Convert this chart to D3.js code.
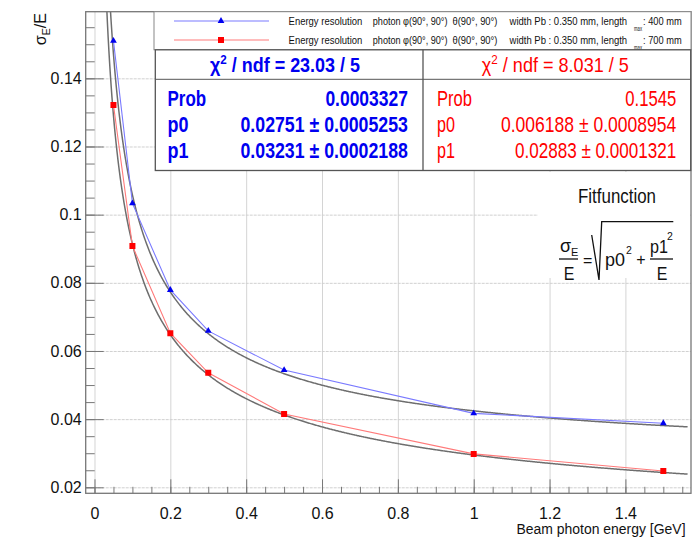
<!DOCTYPE html>
<html>
<head>
  <title>Energy resolution</title>
  <script src="https://d3js.org/d3.v7.min.js"></script>
  <style>
    body { margin: 0; background: #fff; }
    text { font-family: "Liberation Sans", Arial, sans-serif; }
  </style>
</head>
<body>
<div id="chart"></div>
<script>
// beam energies (GeV) and measured sigma_E/E for the two module lengths
const energies = [0.05, 0.1, 0.2, 0.3, 0.5, 1.0, 1.5];
const res400 = [0.1510, 0.1033, 0.0779, 0.0659, 0.0544, 0.0417, 0.0388];
const res700 = [0.1322, 0.0908, 0.0652, 0.0536, 0.0415, 0.0298, 0.0248];

// fit parameters: sigma/E = sqrt(p0^2 + p1^2/E)
const fitP0 = [0.02751, 0.006188];
const fitP1 = [0.03231, 0.02883];

const xTicks = [0, 0.2, 0.4, 0.6, 0.8, 1, 1.2, 1.4];
const yTicks = [0.02, 0.04, 0.06, 0.08, 0.1, 0.12, 0.14];

const legendLabels = ["400 mm", "700 mm"];
const chi2Text = ["23.03 / 5", "8.031 / 5"];
const probText = ["0.0003327", "0.1545"];
const p0Text = ["0.02751 \u00b1 0.0005253", "0.006188 \u00b1 0.0008954"];
const p1Text = ["0.03231 \u00b1 0.0002188", "0.02883 \u00b1 0.0001321"];

const width = 700, height = 552;
const fr = { left: 85.7, right: 691, top: 11.7, bottom: 493.3 };

const svg = d3.select("#chart").append("svg")
  .attr("width", width).attr("height", height);

const x = d3.scaleLinear().domain([-0.0232, 1.573]).range([fr.left, fr.right]);
const y = d3.scaleLinear().domain([0.01824, 0.15955]).range([fr.bottom, fr.top]);

svg.append("defs").append("clipPath").attr("id", "clip")
  .append("rect").attr("x", fr.left).attr("y", fr.top)
  .attr("width", fr.right - fr.left).attr("height", fr.bottom - fr.top);

// grid
svg.append("g").attr("transform", `translate(0,${fr.bottom})`)
  .call(d3.axisBottom(x).tickValues(xTicks).tickSize(-(fr.bottom - fr.top)).tickFormat(""))
  .call(g => g.select(".domain").remove())
  .call(g => g.selectAll("line").attr("stroke", "#d4d4d4"));
svg.append("g").attr("transform", `translate(${fr.left},0)`)
  .call(d3.axisLeft(y).tickValues(yTicks).tickSize(-(fr.right - fr.left)).tickFormat(""))
  .call(g => g.select(".domain").remove())
  .call(g => g.selectAll("line").attr("stroke", "#d0d0d0").attr("stroke-dasharray", "3,1"));

// fit curves
const colors = ["#0000f0", "#ff0000"];
const lineColors = ["#7a7aff", "#ff7a7a"];
const eGrid = d3.range(0.02, 1.566, 0.002);
const line = d3.line().x(d => x(d[0])).y(d => y(d[1]));
const plot = svg.append("g").attr("clip-path", "url(#clip)");

[0, 1].forEach(i => {
  const pts = eGrid.map(e => [e, Math.sqrt(fitP0[i] ** 2 + fitP1[i] ** 2 / e)]);
  plot.append("path").attr("d", line(pts))
    .attr("fill", "none").attr("stroke", "#6e6e6e").attr("stroke-width", 1.5);
});

const series = [res400, res700];
series.forEach((vals, i) => {
  const pts = energies.map((e, j) => [e, vals[j]]);
  plot.append("path").attr("d", line(pts))
    .attr("fill", "none").attr("stroke", lineColors[i]).attr("stroke-width", 1.1);
});

const symbols = [d3.symbol().type(d3.symbolTriangle).size(20), d3.symbol().type(d3.symbolSquare).size(36)];
series.forEach((vals, i) => {
  plot.selectAll(null).data(energies).enter().append("path")
    .attr("d", symbols[i])
    .attr("transform", (e, j) => `translate(${x(e)},${y(vals[j])})`)
    .attr("fill", colors[i]);
});

// axes ticks (inside) and labels
const axisColor = "#777";
svg.append("g").attr("transform", `translate(0,${fr.bottom})`)
  .call(d3.axisBottom(x).tickValues(d3.range(0, 1.56, 0.05)).tickSize(-6.5).tickFormat(""))
  .call(g => g.select(".domain").remove())
  .call(g => g.selectAll("line").attr("stroke", axisColor));
svg.append("g").attr("transform", `translate(0,${fr.bottom})`)
  .call(d3.axisBottom(x).tickValues(xTicks).tickSize(-14).tickPadding(14).tickFormat(d => String(d)))
  .call(g => g.select(".domain").remove())
  .call(g => g.selectAll("line").attr("stroke", axisColor))
  .call(g => g.selectAll("text").attr("font-size", 16).attr("fill", "#111")
    .attr("font-family", "Liberation Sans, Arial, sans-serif"));

svg.append("g").attr("transform", `translate(${fr.left},0)`)
  .call(d3.axisLeft(y).tickValues(d3.range(0.02, 0.158, 0.005)).tickSize(-9).tickFormat(""))
  .call(g => g.select(".domain").remove())
  .call(g => g.selectAll("line").attr("stroke", axisColor));
svg.append("g").attr("transform", `translate(${fr.left},0)`)
  .call(d3.axisLeft(y).tickValues(yTicks).tickSize(-18).tickPadding(4).tickFormat(d => String(d)))
  .call(g => g.select(".domain").remove())
  .call(g => g.selectAll("line").attr("stroke", axisColor))
  .call(g => g.selectAll("text").attr("font-size", 16).attr("fill", "#111")
    .attr("font-family", "Liberation Sans, Arial, sans-serif"));

// text drawn with a small vertical stretch, like the squeezed ROOT fonts
function label(sel, px, py, str, o) {
  const t = sel.append("text")
    .attr("transform", `translate(${px},${py}) scale(1,${o.sy || 1})`)
    .attr("font-size", o.size).attr("fill", o.color || "#111")
    .attr("text-anchor", o.anchor || "start")
    .attr("font-weight", o.bold ? "bold" : null)
    .text(str);
  if (o.w) t.attr("textLength", o.w).attr("lengthAdjust", "spacingAndGlyphs");
  return t;
}

// axis titles
label(svg, 685.5, 533.5, "Beam photon energy [GeV]", { size: 13, sy: 1.12, anchor: "end", w: 169 });
const yt = svg.append("text").attr("transform", "translate(46,13) rotate(-90)")
  .attr("text-anchor", "end").attr("font-size", 16).attr("fill", "#111");
yt.append("tspan").text("\u03c3");
yt.append("tspan").attr("font-size", 11).attr("dy", 4).text("E");
yt.append("tspan").attr("dy", -4).text("/E");

// frame
svg.append("rect").attr("x", fr.left).attr("y", fr.top)
  .attr("width", fr.right - fr.left).attr("height", fr.bottom - fr.top)
  .attr("fill", "none").attr("stroke", axisColor).attr("stroke-width", 1.3);

// legend
const leg = svg.append("g");
leg.append("rect").attr("x", 154).attr("y", fr.top).attr("width", 537).attr("height", 38.1)
  .attr("fill", "#fff").attr("stroke", "#888").attr("stroke-width", 1);
[21, 40].forEach((ly, i) => {
  leg.append("line").attr("x1", 174).attr("x2", 269).attr("y1", ly).attr("y2", ly)
    .attr("stroke", lineColors[i]).attr("stroke-width", 1.2);
  leg.append("path").attr("d", symbols[i]).attr("transform", `translate(221,${ly})`)
    .attr("fill", colors[i]);
  const by = ly + 3.8;
  const o = { size: 9.4, sy: 1.25 };
  label(leg, 288.6, by, "Energy resolution", { ...o, w: 73.7 });
  label(leg, 372.8, by, "photon \u03c6(90\u00b0, 90\u00b0)", { ...o, w: 74.7 });
  label(leg, 452.5, by, "\u03b8(90\u00b0, 90\u00b0)", { ...o, w: 44.9 });
  label(leg, 509.6, by, "width Pb : 0.350 mm, length", { ...o, w: 117.5 });
  label(leg, 634, by + 6.5, "max", { size: 5.5, sy: 1.2, w: 8 });
  label(leg, 643, by, ": " + legendLabels[i], { ...o, w: 38.6 });
});

// stats boxes
const st = svg.append("g");
st.append("rect").attr("x", 155.3).attr("y", 49.8).attr("width", 535.4).attr("height", 120.7)
  .attr("fill", "#fff").attr("stroke", "#555").attr("stroke-width", 1.3);
st.append("line").attr("x1", 423).attr("x2", 423).attr("y1", 49.8).attr("y2", 170.5)
  .attr("stroke", "#555").attr("stroke-width", 1.3);
st.append("line").attr("x1", 155.3).attr("x2", 690.7).attr("y1", 79.3).attr("y2", 79.3)
  .attr("stroke", "#555").attr("stroke-width", 1);

const boxes = [
  { cx: 285, lx: 167.5, rx: 407.9, bold: true, chiW: 150, probW: 38.6, pW: 21,
    valW: [82.5, 167.4, 167.4] },
  { cx: 555.3, lx: 437, rx: 676.3, bold: false, chiW: 147, probW: 35, pW: 18,
    valW: [51, 175.4, 161.4] }
];
boxes.forEach((b, i) => {
  const c = colors[i];
  const t = st.append("text").attr("transform", `translate(${b.cx},72.3) scale(1,1.2)`)
    .attr("text-anchor", "middle")
    .attr("font-size", 17).attr("fill", c).attr("font-weight", b.bold ? "bold" : null)
    .attr("textLength", b.chiW).attr("lengthAdjust", "spacingAndGlyphs");
  t.append("tspan").text("\u03c7");
  t.append("tspan").attr("font-size", 11).attr("dy", -7).text("2");
  t.append("tspan").attr("dy", 7).text(" / ndf = " + chi2Text[i]);

  const rows = [["Prob", probText[i], 106, b.probW], ["p0", p0Text[i], 132, b.pW], ["p1", p1Text[i], 157.5, b.pW]];
  rows.forEach((r, k) => {
    const o = { size: 17.3, sy: 1.28, color: c, bold: b.bold };
    label(st, b.lx, r[2], r[0], { ...o, w: r[3] });
    label(st, b.rx, r[2], r[1], { ...o, anchor: "end", w: b.valW[k] });
  });
});

// fit function pave
const ff = svg.append("g");
ff.append("rect").attr("x", 538).attr("y", 172).attr("width", 152).attr("height", 106).attr("fill", "#fff");
label(ff, 578, 203, "Fitfunction", { size: 17, sy: 1.2, w: 78 });
const num = ff.append("text").attr("x", 560).attr("y", 252).attr("font-size", 18).attr("fill", "#111");
num.append("tspan").text("\u03c3");
num.append("tspan").attr("font-size", 11).attr("dy", 4).text("E");
ff.append("line").attr("x1", 559).attr("x2", 578).attr("y1", 259).attr("y2", 259).attr("stroke", "#111").attr("stroke-width", 1.3);
label(ff, 569, 280, "E", { size: 16, sy: 1.15, anchor: "middle" });
label(ff, 583, 266, "=", { size: 16 });
ff.append("polyline").attr("points", "591.7,235 599,280 601.7,221.7 673.3,221.7")
  .attr("fill", "none").attr("stroke", "#111").attr("stroke-width", 1.3);
label(ff, 605, 266, "p0", { size: 16, sy: 1.15, w: 20 });
label(ff, 626, 254, "2", { size: 10.5 });
label(ff, 641, 265, "+", { size: 16, anchor: "middle" });
label(ff, 650, 253, "p1", { size: 16, sy: 1.15, w: 18 });
label(ff, 667, 240, "2", { size: 10.5 });
ff.append("line").attr("x1", 650).attr("x2", 673).attr("y1", 259).attr("y2", 259).attr("stroke", "#111").attr("stroke-width", 1.3);
label(ff, 662, 280, "E", { size: 16, sy: 1.15, anchor: "middle" });
</script>
</body>
</html>
